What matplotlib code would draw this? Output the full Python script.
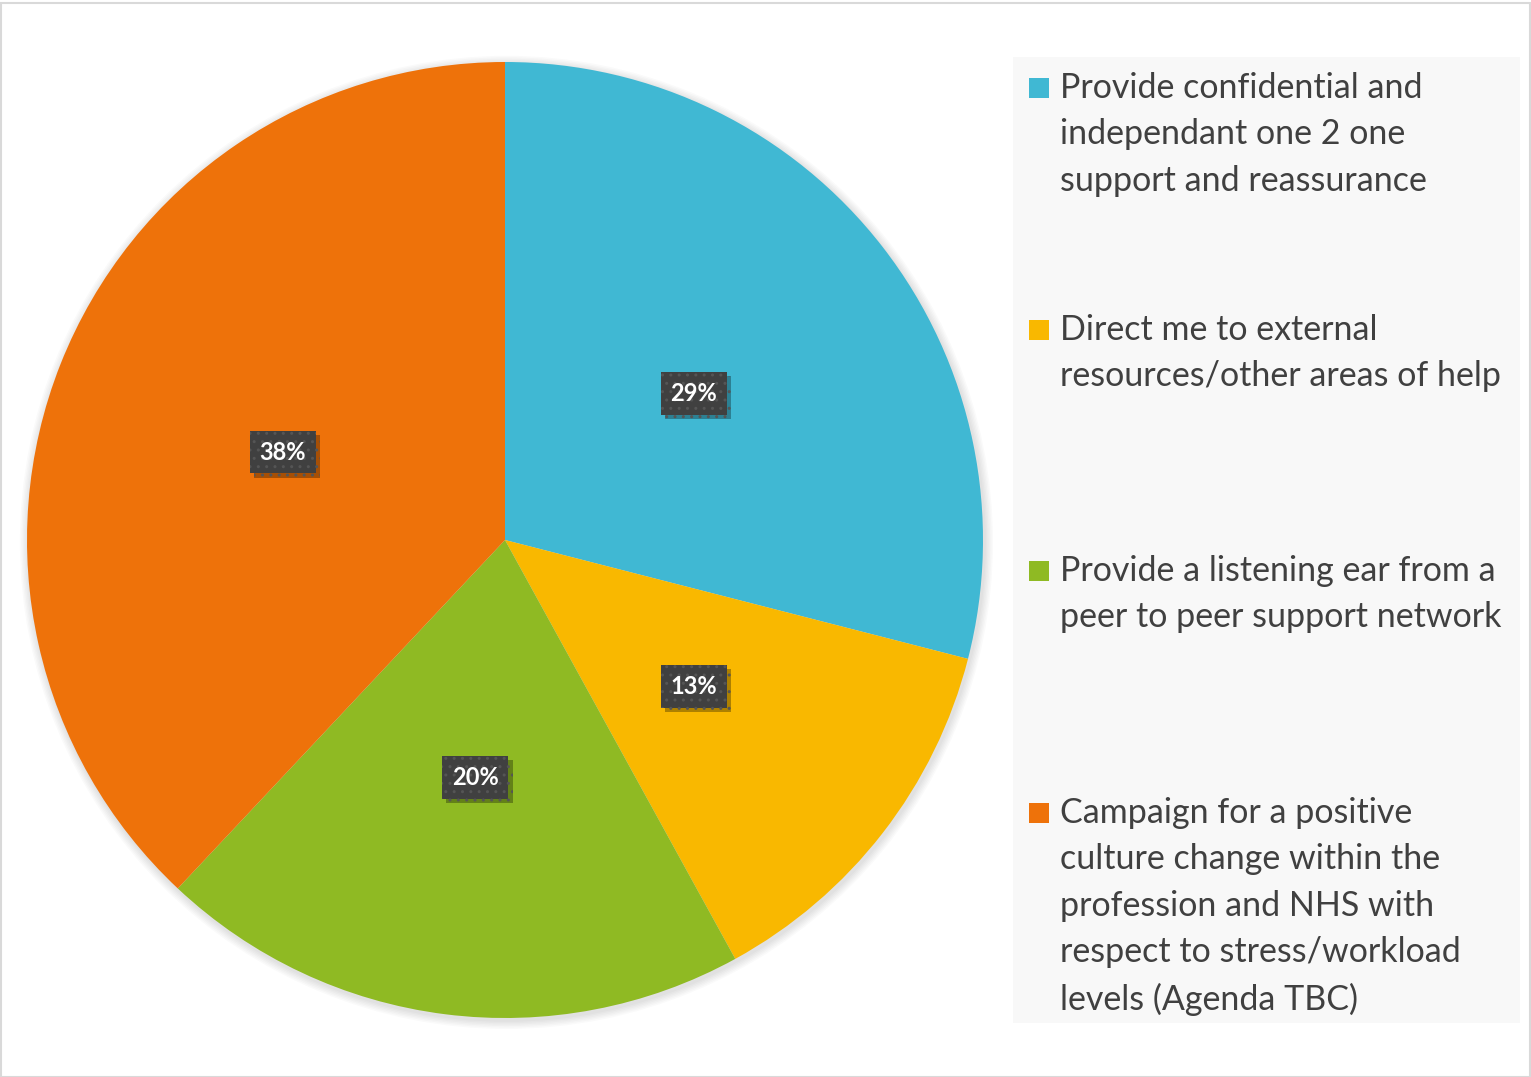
import matplotlib.pyplot as plt
import matplotlib.patheffects as pe
from matplotlib.patches import Rectangle, Circle

plt.rcParams['font.family'] = ['Lato', 'DejaVu Sans']

labels = [
    "Provide confidential and\nindependant one 2 one\nsupport and reassurance",
    "Direct me to external\nresources/other areas of help",
    "Provide a listening ear from a\npeer to peer support network",
    "Campaign for a positive\nculture change within the\nprofession and NHS with\nrespect to stress/workload\nlevels (Agenda TBC)",
]
shares = [29, 13, 20, 38]
colors = ['#40B8D3', '#F9B800', '#8FBA23', '#EE720A']

W, H = 1531, 1077
fig = plt.figure(figsize=(W / 100, H / 100), dpi=100)
fig.patch.set_facecolor('white')

# outer frame
fig.add_artist(Rectangle((0.5 / W, 0.5 / H), 1 - 1.5 / W, 1 - 3 / H,
                         transform=fig.transFigure, fill=False,
                         edgecolor='#d9d9d9', linewidth=1.5))

# pie axes: centre (505, 540), radius 478 px
cx, cy, r = 505, H - 540, 478
ax = fig.add_axes([(cx - r) / W, (cy - r) / H, 2 * r / W, 2 * r / H])

wedges, texts = ax.pie(shares, colors=colors, startangle=90, counterclock=False,
                       radius=1.0, labels=[f"{v}%" for v in shares],
                       labeldistance=0.5,
                       wedgeprops=dict(edgecolor='none', linewidth=0))
ax.set_xlim(-1, 1)
ax.set_ylim(-1, 1)
ax.axis('off')

# soft shadow round the pie
for k in range(6):
    ax.add_patch(Circle((0.003, -0.005), 1.0 + 0.003 * (k + 1),
                        facecolor='#000000', alpha=0.02, edgecolor='none',
                        zorder=0, clip_on=False))
for w in wedges:
    w.set_zorder(2)
for t in texts:
    t.set_ha('center')
    t.set_va('center')
    t.set_color('white')
    t.set_fontsize(17)
    t.set_fontweight('bold')
    t.set_zorder(5)
    t.set_bbox(dict(boxstyle='square,pad=0.42', facecolor='#404040',
                    edgecolor='#555555', hatch='..', linewidth=0))
    t.get_bbox_patch().set_path_effects(
        [pe.withSimplePatchShadow(offset=(3, -3), shadow_rgbFace='black', alpha=0.3)])

# legend panel
fig.add_artist(Rectangle((1013 / W, (H - 1023) / H), (1520 - 1013) / W, (1023 - 57) / H,
                         transform=fig.transFigure, facecolor='#f8f8f8',
                         edgecolor='none', zorder=0))
tops = [72, 314, 555, 797]
for lab, col, top in zip(labels, colors, tops):
    fig.add_artist(Rectangle((1029 / W, (H - top - 26) / H), 20 / W, 20 / H,
                             transform=fig.transFigure, facecolor=col,
                             edgecolor='none'))
    fig.text(1060 / W, (H - top) / H, lab, ha='left', va='top',
             fontsize=24.5, color='#404040', linespacing=1.55)

fig.savefig('out.png', dpi=100)
